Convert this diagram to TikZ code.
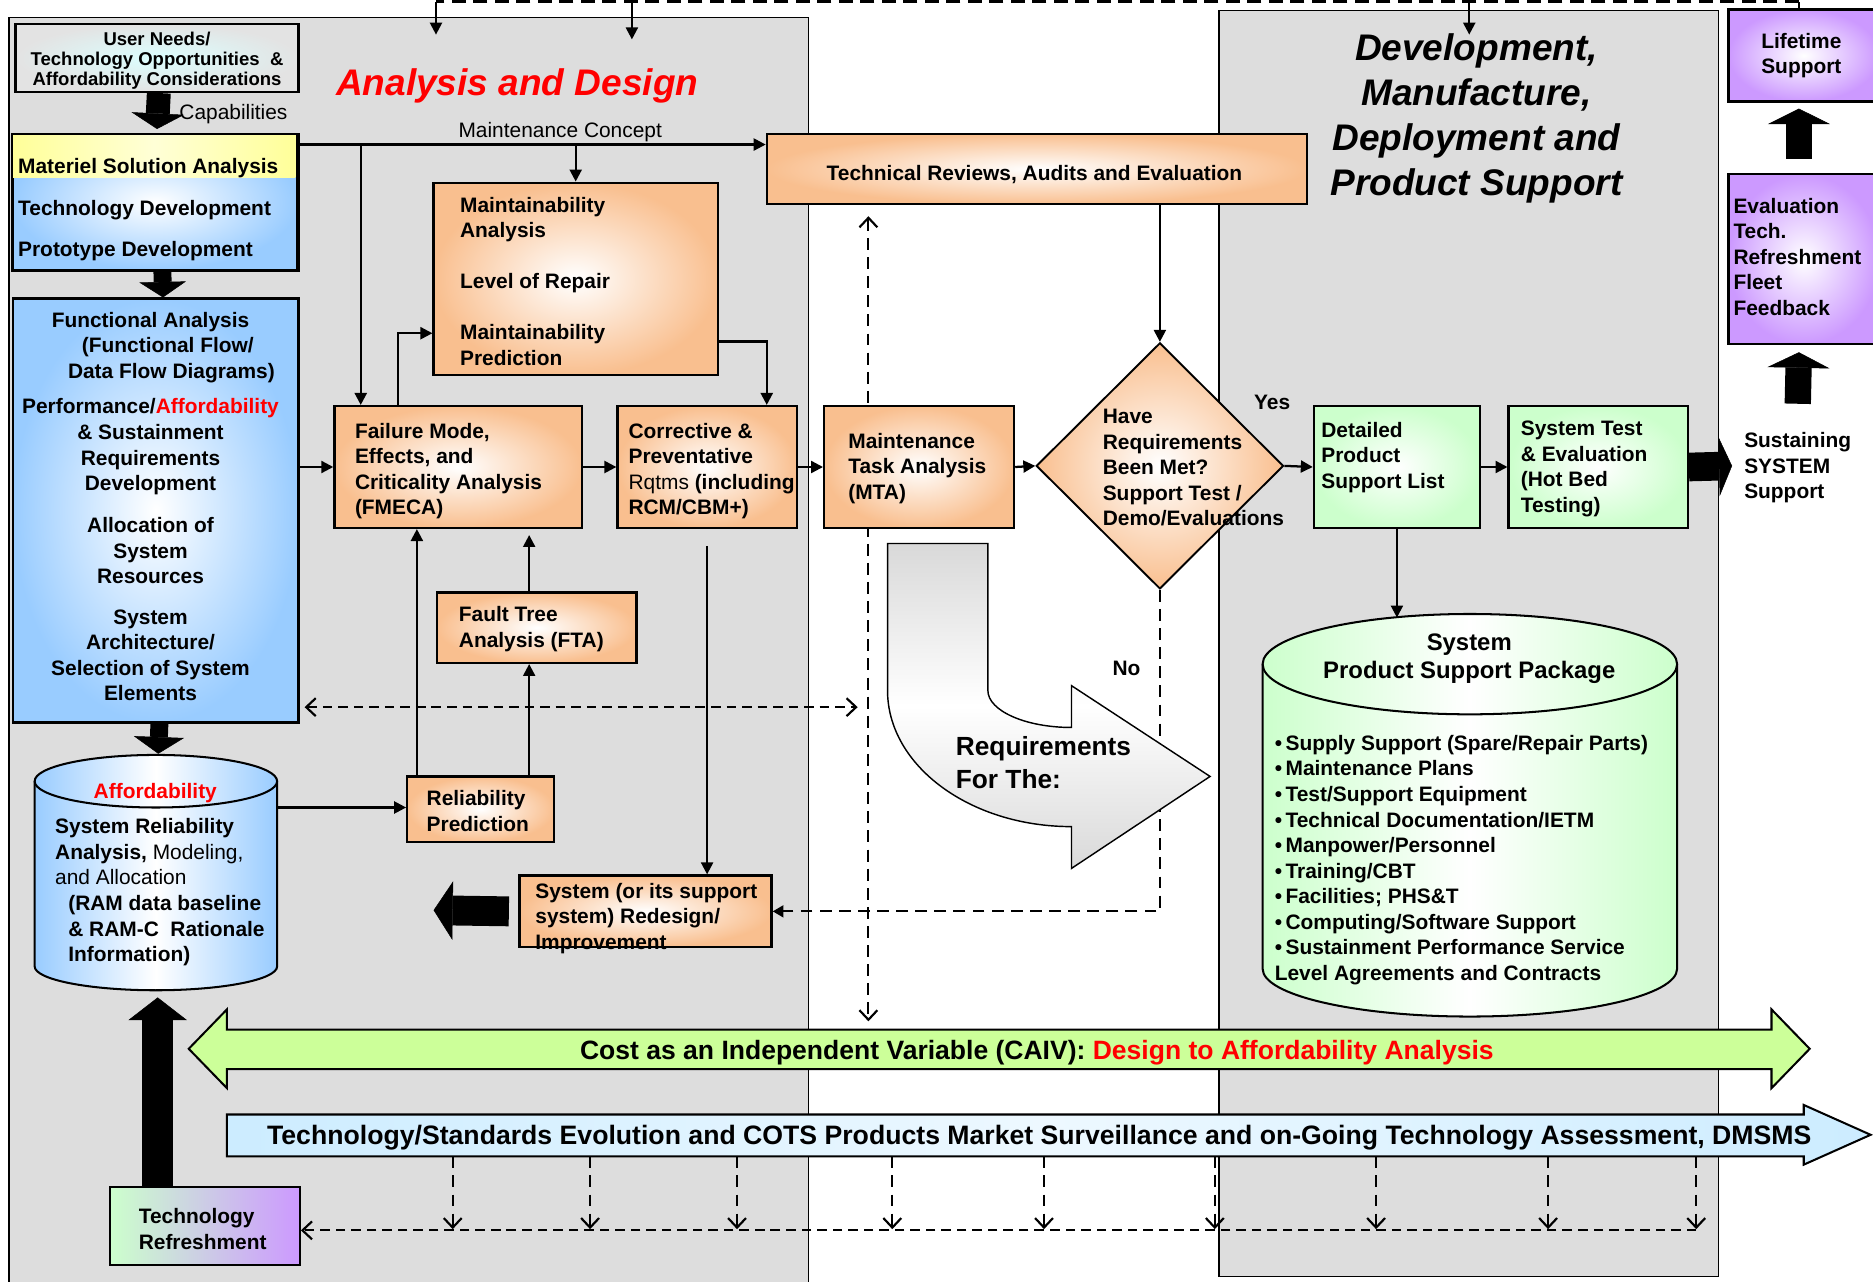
\documentclass[tikz,border=0pt]{standalone}
\usepackage{fontspec}
\setmainfont{Liberation Sans}
\usetikzlibrary{arrows.meta,shapes.geometric}
\pgfdeclarelayer{bg}
\pgfdeclarelayer{mid}
\pgfsetlayers{bg,mid,main}

\definecolor{panelgray}{HTML}{DDDDDD}
\definecolor{orangeC}{HTML}{F9BF8F}
\definecolor{blueC}{HTML}{99CCFF}
\definecolor{greenC}{HTML}{CCFFCC}
\definecolor{purpleC}{HTML}{CC99FF}
\definecolor{yellowC}{HTML}{FFFF99}
\definecolor{limeC}{HTML}{CCFF99}
\definecolor{skyC}{HTML}{CCECFF}

\newcommand\fmain{\fontsize{17.5}{21.4}\selectfont}
% thick block arrow: shaft width, head width, head length, start, end
\newcommand\blockarr[5]{%
  \draw[line width=#1, shorten >=#3] #4 -- #5;
  \draw[line width=0.4pt, -{Triangle[length=#3,width=#2]}] #4 -- #5;}

\begin{document}
\begin{tikzpicture}[x=1pt, y=-1pt,
  panel/.style={draw=black, line width=1.4pt, fill=panelgray, anchor=north west, inner sep=0},
  bx/.style={draw=black, line width=1.9pt, anchor=north west, inner sep=0},
  obx/.style={bx, inner color=white, outer color=orangeC},
  gbx/.style={bx, inner color=white, outer color=greenC},
  pbx/.style={bx, inner color=white, outer color=purpleC},
  lbl/.style={font=\fmain\bfseries, inner sep=0, align=left, anchor=west, yshift=-2.5pt},
  clbl/.style={font=\fmain\bfseries, inner sep=0, align=center, yshift=-2.5pt},
  arr/.style={line width=1.9pt, -{Triangle[length=10pt,width=10pt]}},
  dsh/.style={line width=1.8pt, dash pattern=on 8pt off 5pt},
  dshv/.style={line width=1.8pt, dash pattern=on 10pt off 6pt},
  dbarb/.style={{Straight Barb[length=8pt,width=15pt]}-{Straight Barb[length=8pt,width=15pt]}},
  rbarb/.style={-{Straight Barb[length=8pt,width=15pt]}},
]
\useasboundingbox (0,0) rectangle (1568,1073);
\clip (0,0) rectangle (1568,1073);

% ---------- phase panels ----------
\begin{pgfonlayer}{bg}
  \fill[white] (0,0) rectangle (1568,1073);
  \node[panel, minimum width=669, minimum height=1075] (adp) at (7,14) {};
  \node[panel, minimum width=418, minimum height=1060] (dmp) at (1020,8) {};
\end{pgfonlayer}

% ---------- boxes ----------
\node[bx, inner color=cyan!14, outer color=black!11, minimum width=237, minimum height=57] (needs) at (12,19) {};
\node[bx, inner color=white, outer color=blueC, minimum width=238, minimum height=113] (mat) at (10,112) {};
\fill[left color=yellowC, right color=yellowC, middle color=yellowC!40] (10.8,112.8) rectangle (247.2,149);
\draw[line width=1.9pt] (mat.north west) rectangle (mat.south east);
\node[bx, inner color=white, outer color=blueC, minimum width=239, minimum height=355] (fa) at (10,249) {};

% affordability data store
\draw[line width=1.7pt, left color=blueC, right color=blueC, middle color=white]
  (29,654) -- (29,809)
  .. controls (29,820.05) and (74.44,829) .. (130.5,829)
  .. controls (186.56,829) and (232,820.05) .. (232,809)
  -- (232,654)
  .. controls (232,641.85) and (186.56,632) .. (130.5,632)
  .. controls (74.44,632) and (29,641.85) .. (29,654) -- cycle;
\draw[line width=1.7pt] (29,654) .. controls (29,666.15) and (74.44,676) .. (130.5,676)
  .. controls (186.56,676) and (232,666.15) .. (232,654);
\coordinate (affT) at (130.5,631);
\coordinate (affB) at (130.5,829);
\coordinate (affR) at (232,676);

\node[obx, minimum width=123, minimum height=55] (rel) at (340,649) {};
\node[obx, minimum width=167, minimum height=59] (fta) at (365,495) {};
\node[obx, minimum width=207, minimum height=102] (fmeca) at (279,339) {};
\node[obx, minimum width=150, minimum height=102] (corr) at (516,339) {};
\node[obx, minimum width=238, minimum height=161] (maint) at (362,152) {};
\node[obx, minimum width=452, minimum height=59] (tech) at (641,111) {};
\node[obx, minimum width=159, minimum height=102] (mta) at (689,339) {};
\node[draw=black, line width=1.6pt, diamond, inner sep=0, minimum width=207, minimum height=206,
      inner color=white, outer color=orangeC] (dia) at (971,390) {};
\node[gbx, minimum width=139, minimum height=102] (det) at (1099,339) {};
\node[gbx, minimum width=150, minimum height=102] (st) at (1262,339) {};
\node[obx, minimum width=211, minimum height=60] (red) at (434,732) {};
\node[bx, left color=greenC, right color=purpleC, minimum width=159, minimum height=65] (tref) at (91,993) {};
\node[pbx, minimum width=126, minimum height=77] (life) at (1446,7) {};
\node[pbx, minimum width=126, minimum height=142] (evalb) at (1446,145) {};

% product support package store
\draw[line width=1.7pt, left color=greenC, right color=greenC, middle color=white]
  (1057,556) -- (1057,811)
  .. controls (1057,833.09) and (1134.68,851) .. (1230.5,851)
  .. controls (1326.32,851) and (1404,833.09) .. (1404,811)
  -- (1404,556)
  .. controls (1404,532.8) and (1326.32,514) .. (1230.5,514)
  .. controls (1134.68,514) and (1057,532.8) .. (1057,556) -- cycle;
\draw[line width=1.7pt] (1057,556) .. controls (1057,579.2) and (1134.68,598) .. (1230.5,598)
  .. controls (1326.32,598) and (1404,579.2) .. (1404,556);
\coordinate (pkgT) at (1230.5,517);

% ---------- dashed feedback paths ----------
\coordinate (vt) at (727,181);
\coordinate (vb) at (727,855);
\coordinate (hl) at (255,592);
\coordinate (hr) at (718,592);
\coordinate (tlink) at (1420,1030);
\begin{pgfonlayer}{mid}
  \draw[dshv, dbarb] (vt) -- (vb);
  \draw[dsh, dbarb] (hl) -- (hr);
  \draw[dshv, -{Triangle[length=9pt,width=10pt]}] (dia.south) |- (red.east);
\end{pgfonlayer}

% requirements turn arrow
\draw[line width=1.2pt, top color=black!15, bottom color=black!15, middle color=white]
  (743,455) -- (827,455) -- (827,578) .. controls (827,595) and (858.5,609) .. (897,609)
  -- (897,574) -- (1013,650) -- (897,727) -- (897,692)
  .. controls (812,692) and (743,641) .. (743,578) -- cycle;

% CAIV band
\draw[line width=1.7pt, fill=limeC] (158,878) -- (190,845) -- (190,862) -- (1483,862) -- (1483,845)
  -- (1515,878) -- (1483,911) -- (1483,895) -- (190,895) -- (190,911) -- cycle;
% technology surveillance band
\draw[line width=1.7pt, left color=skyC, right color=skyC, middle color=skyC!35]
  (190,933) -- (1510,933) -- (1510,925) -- (1566,950) -- (1510,975) -- (1510,968) -- (190,968) -- cycle;
\foreach \xx in {379,494,617,747,874,1017,1152,1296,1420}
  \draw[dshv, rbarb] (\xx,968) -- (\xx,1029);
\draw[dsh, rbarb] (tlink) -- (tlink -| tref.east);

% top feedback line
\coordinate (fbL) at (365,1.5);
\coordinate (fbR) at (1506,1.5);
\coordinate (fb1) at (365,29);
\coordinate (fb2) at (529,33);
\coordinate (fb3) at (1230,29);
\draw[line width=2.4pt, dash pattern=on 12pt off 6pt] (fbR) -- (fbL);
\draw[arr] (fbL) -- (fb1);
\draw[arr] (fb2 |- fbL) -- (fb2);
\draw[arr] (fb3 |- fbL) -- (fb3);
\draw[line width=1.9pt] (fbR) -- (fbR |- life.north);

% ---------- solid connectors ----------
\coordinate (mc) at (248,121);
\coordinate (fmA) at ([xshift=23]fmeca.north west);
\draw[arr] (mc) -- (mc -| tech.west);
\draw[arr] (mc -| fmA) -- (fmA);
\draw[arr] (mc -| maint.north) -- (maint.north);
\draw[arr] ([xshift=54]fmeca.north west) |- ([yshift=-45.5]maint.west);
\draw[arr] ([yshift=-52.5]maint.east) -| ([xshift=-26]corr.north east);
\draw[arr] (fa.east |- fmeca.west) -- (fmeca.west);
\draw[arr] (fmeca.east) -- (corr.west);
\draw[arr] (corr.east) -- (mta.west);
\draw[arr] (mta.east) -- (dia.west);
\draw[arr] (dia.east) -- (det.west);
\draw[arr] (det.east) -- (st.west);
\draw[arr] (tech.south -| dia.north) -- (dia.north);
\draw[arr] (affR) -- (affR -| rel.west);
\coordinate (rA) at ([xshift=9]rel.north west);
\coordinate (rB) at ([xshift=103]rel.north west);
\coordinate (fmS) at ([yshift=-5]fmeca.south);
\draw[arr] (rA) -- (rA |- fmeca.south);
\draw[arr] (rB) -- (rB |- fta.south);
\draw[arr] (rB |- fta.north) -- (rB |- fmS);
\draw[arr] ([yshift=-14]corr.south) -- (corr.south |- red.north);
\draw[arr] (det.south) -- (det.south |- pkgT);

% ---------- block arrows ----------
\coordinate (rtip) at (363,762);
\coordinate (stip) at (1450,390);
\coordinate (sustop) at (1505,338);
\blockarr{20pt}{44pt}{13pt}{([xshift=1.5]needs.south)}{([xshift=1.5,yshift=4]mat.north)}
\blockarr{15pt}{39pt}{13pt}{([xshift=6]mat.south)}{([xshift=6]fa.north)}
\blockarr{15pt}{42pt}{14pt}{([xshift=3]fa.south)}{([xshift=2]affT)}
\blockarr{26pt}{49pt}{19pt}{([xshift=41]tref.north west)}{([xshift=1.5,yshift=-6]affB)}
\blockarr{25pt}{49pt}{16pt}{([xshift=-8]red.west)}{(rtip)}
\blockarr{24pt}{50pt}{11pt}{(st.east)}{(stip)}
\blockarr{22pt}{52pt}{13pt}{([xshift=-4,yshift=12]evalb.north)}{([xshift=-4,yshift=-5]life.south)}
\blockarr{22pt}{52pt}{13pt}{(sustop)}{([xshift=-4,yshift=-6]evalb.south)}

% ---------- texts ----------
\node[clbl, font=\fontsize{15.5}{17}\selectfont\bfseries] (needst) at (needs.center)
  {User Needs/\\Technology Opportunities~~\&\\Affordability Considerations};
\node[lbl, font=\fmain] (capt) at (150,93) {Capabilities};
\node[inner sep=0, text=red, font=\fontsize{31}{37}\selectfont\bfseries\itshape] (adt) at (433,72) {Analysis and Design};
\node[inner sep=0, font=\fmain] (mct) at (469,110.5) {Maintenance Concept};
\node[inner sep=0, align=center, font=\fontsize{31}{37.5}\selectfont\bfseries\itshape] (dmt) at (1236,99)
  {Development,\\Manufacture,\\Deployment and\\Product Support};

\node[lbl] (matt) at (15,173) {Materiel Solution Analysis\\[13pt]Technology Development\\[13pt]Prototype Development};
\node[clbl] (fat) at (126,421.5) {Functional Analysis\\\hspace*{29pt}(Functional Flow/\\\hspace*{35pt}Data Flow Diagrams)\\[8.6pt]
  Performance/{\color{red}Affordability}\\\& Sustainment\\Requirements\\Development\\[13.6pt]
  Allocation of\\System\\Resources\\[12.6pt]System\\Architecture/\\Selection of System\\Elements};
\node[inner sep=0, text=red, font=\fmain\bfseries] (afft) at (130,664) {Affordability};
\node[lbl] (affl) at (46,744.5) {System Reliability\\Analysis, {\mdseries Modeling,}\\{\mdseries and Allocation}\\
  \hspace*{11pt}(RAM data baseline\\\hspace*{11pt}\& RAM-C~~Rationale\\\hspace*{11pt}Information)};
\node[lbl] (relt) at (357,676.5) {Reliability\\Prediction};
\node[lbl] (ftat) at (384,524) {Fault Tree\\Analysis (FTA)};
\node[lbl] (fmecat) at (297,392) {Failure Mode,\\Effects, and\\Criticality Analysis\\(FMECA)};
\node[lbl] (corrt) at (526,392) {Corrective \&\\Preventative\\{\mdseries Rqtms} (including\\RCM/CBM+)};
\node[lbl] (maintt) at (385,233) {Maintainability\\Analysis\\[21.4pt]Level of Repair\\[21.4pt]Maintainability\\Prediction};
\node[clbl] (techt) at (866,144) {Technical Reviews, Audits and Evaluation};
\node[lbl] (mtat) at (710,389.5) {Maintenance\\Task Analysis\\(MTA)};
\node[lbl] (diat) at (923,389) {Have\\Requirements\\Been Met?\\Support Test /\\Demo/Evaluations};
\node[clbl] (yest) at (1065,334) {Yes};
\node[clbl] (not) at (943,557) {No};
\node[lbl] (dett) at (1106,380.5) {Detailed\\Product\\Support List};
\node[lbl] (stt) at (1273,390) {System Test\\\& Evaluation\\(Hot Bed\\Testing)};
\node[lbl] (redt) at (448,766.5) {System (or its support\\system) Redesign/\\Improvement};
\node[lbl] (treft) at (116,1026.5) {Technology\\Refreshment};
\node[lbl, font=\fontsize{22}{27}\selectfont\bfseries] (reqt) at (800,636) {Requirements\\For The:};
\node[clbl, font=\fontsize{20}{24}\selectfont\bfseries] (pkgt) at (1230,549) {System\\Product Support Package};
\node[lbl] (pkgl) at (1067,717.5) {\textbullet\,Supply Support (Spare/Repair Parts)\\\textbullet\,Maintenance Plans\\
  \textbullet\,Test/Support Equipment\\\textbullet\,Technical Documentation/IETM\\\textbullet\,Manpower/Personnel\\
  \textbullet\,Training/CBT\\\textbullet\,Facilities; PHS\&T\\\textbullet\,Computing/Software Support\\
  \textbullet\,Sustainment Performance Service\\Level Agreements and Contracts};
\node[clbl] (lifet) at (1508,44) {Lifetime\\Support};
\node[lbl] (evalt) at (1451,212.5) {Evaluation\\Tech.\\Refreshment\\Fleet\\Feedback};
\node[lbl] (sustt) at (1460,389) {Sustaining\\SYSTEM\\Support};
\node[inner sep=0, font=\fontsize{22.2}{26}\selectfont\bfseries] (caivt) at (868,881)
  {Cost as an Independent Variable (CAIV): {\color{red}Design to Affordability Analysis}};
\node[inner sep=0, font=\fontsize{22.3}{26}\selectfont\bfseries] (survt) at (870,952)
  {Technology/Standards Evolution and COTS Products Market Surveillance and on-Going Technology Assessment, DMSMS};
\end{tikzpicture}
\end{document}
